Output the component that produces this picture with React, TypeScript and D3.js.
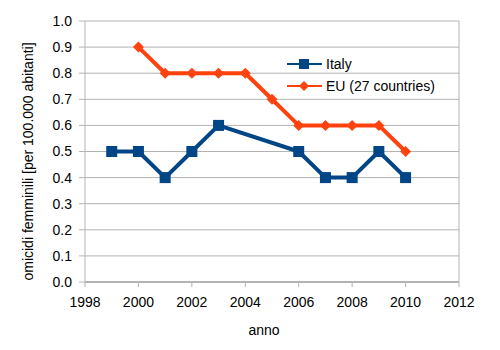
import * as d3 from "d3";

// Femicide rate, Italy vs EU-27, per 100,000 inhabitants
const ITALY_YEARS = [1999, 2000, 2001, 2002, 2003, 2006, 2007, 2008, 2009, 2010];
const ITALY_VALUES = [0.5, 0.5, 0.4, 0.5, 0.6, 0.5, 0.4, 0.4, 0.5, 0.4];
const EU_YEARS = [2000, 2001, 2002, 2003, 2004, 2005, 2006, 2007, 2008, 2009, 2010];
const EU_VALUES = [0.9, 0.8, 0.8, 0.8, 0.8, 0.7, 0.6, 0.6, 0.6, 0.6, 0.5];
const X_TICKS = [1998, 2000, 2002, 2004, 2006, 2008, 2010, 2012];
const Y_TICKS = [0, 0.1, 0.2, 0.3, 0.4, 0.5, 0.6, 0.7, 0.8, 0.9, 1.0];

const ITALY_COLOR = "#004586";
const EU_COLOR = "#ff420e";
const GRID = "#b3b3b3";
const FONT = "'Liberation Sans', Arial, sans-serif";
const FS = 14;

const W = 500;
const H = 350;
const M = { left: 85, right: 41, top: 21, bottom: 68 };

export default function App() {
  const x = d3.scaleLinear().domain([1998, 2012]).range([M.left, W - M.right]);
  const y = d3.scaleLinear().domain([0, 1]).range([H - M.bottom, M.top]);

  const line = d3
    .line<[number, number]>()
    .x((d) => x(d[0]))
    .y((d) => y(d[1]));

  const italy: [number, number][] = ITALY_YEARS.map((yr, i) => [yr, ITALY_VALUES[i]]);
  const eu: [number, number][] = EU_YEARS.map((yr, i) => [yr, EU_VALUES[i]]);

  const sq = 11;
  const dm = 5.5;
  const diamond = (cx: number, cy: number, r: number) =>
    `M${cx},${cy - r}L${cx + r},${cy}L${cx},${cy + r}L${cx - r},${cy}Z`;

  const x0 = x.range()[0];
  const x1 = x.range()[1];
  const yb = y(0);

  return (
    <svg
      width={W}
      height={H}
      style={{ position: "absolute", left: 0, top: 0, background: "#fff" }}
      fontFamily={FONT}
    >
      {/* horizontal grid + y ticks */}
      {Y_TICKS.map((t) => (
        <g key={t}>
          <line x1={x0 - 6} x2={x1} y1={y(t)} y2={y(t)} stroke={GRID} strokeWidth={1} />
          <text x={72} y={y(t)} dy="0.35em" textAnchor="end" fontSize={FS} fill="#000">
            {t.toFixed(1)}
          </text>
        </g>
      ))}

      {/* axes frame */}
      <line x1={x0} x2={x0} y1={y(1)} y2={yb} stroke={GRID} strokeWidth={1} />
      <line x1={x1} x2={x1} y1={y(1)} y2={yb} stroke={GRID} strokeWidth={1} />
      <line x1={x0} x2={x1} y1={yb} y2={yb} stroke={GRID} strokeWidth={2} />

      {/* x ticks */}
      {X_TICKS.map((t) => (
        <g key={t}>
          <line x1={x(t)} x2={x(t)} y1={yb} y2={yb + 5} stroke={GRID} strokeWidth={1} />
          <text x={x(t)} y={yb + 25} textAnchor="middle" fontSize={FS} fill="#000">
            {t}
          </text>
        </g>
      ))}

      {/* axis titles */}
      <text x={264} y={335} textAnchor="middle" fontSize={FS} fill="#000">
        anno
      </text>
      <text
        transform={`translate(33,${(y(1) + yb) / 2 + 10}) rotate(-90)`}
        textAnchor="middle"
        fontSize={FS}
        fill="#000"
      >
        omicidi femminili [per 100.000 abitanti]
      </text>

      {/* EU series */}
      <path d={line(eu) ?? ""} fill="none" stroke={EU_COLOR} strokeWidth={4} strokeLinejoin="round" />
      {eu.map((d) => (
        <path key={d[0]} d={diamond(x(d[0]), y(d[1]), dm)} fill={EU_COLOR} />
      ))}

      {/* Italy series */}
      <path d={line(italy) ?? ""} fill="none" stroke={ITALY_COLOR} strokeWidth={4} strokeLinejoin="round" />
      {italy.map((d) => (
        <rect
          key={d[0]}
          x={x(d[0]) - sq / 2}
          y={y(d[1]) - sq / 2}
          width={sq}
          height={sq}
          fill={ITALY_COLOR}
        />
      ))}

      {/* legend */}
      <g>
        <line x1={287} x2={322} y1={64} y2={64} stroke={ITALY_COLOR} strokeWidth={2} />
        <rect x={299} y={59} width={10} height={10} fill={ITALY_COLOR} />
        <text x={326} y={64} dy="0.35em" fontSize={FS} fill="#000">
          Italy
        </text>
        <line x1={287} x2={322} y1={86} y2={86} stroke={EU_COLOR} strokeWidth={2} />
        <path d={diamond(304, 86, 5)} fill={EU_COLOR} />
        <text x={326} y={86} dy="0.35em" fontSize={FS} fill="#000">
          EU (27 countries)
        </text>
      </g>
    </svg>
  );
}
